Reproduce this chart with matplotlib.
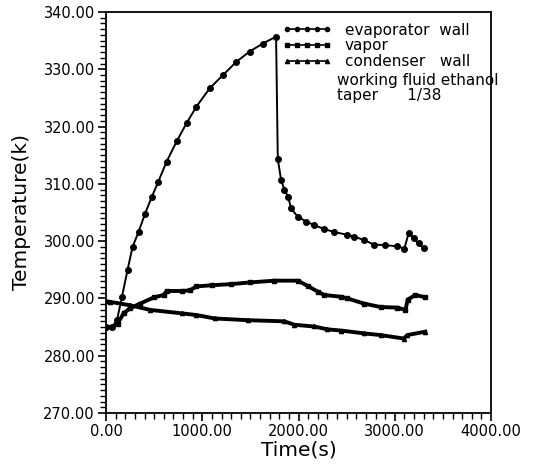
import matplotlib
matplotlib.use("Agg")
import matplotlib.pyplot as plt
from matplotlib.ticker import MultipleLocator, FormatStrFormatter

# ---- data ----
evap_t = [0, 62, 114, 165, 224, 276, 338, 406, 475, 544, 630, 734, 837, 940,
          1078, 1216, 1354, 1492, 1630, 1767, 1785, 1819, 1853, 1894, 1922,
          1991, 2080, 2163, 2270, 2370, 2508, 2577, 2680, 2783, 2900, 3025,
          3100, 3146, 3197, 3249, 3300]
evap_T = [285.0, 285.0, 286.2, 290.2, 295.0, 299.0, 301.6, 304.8, 307.7, 310.4,
          313.9, 317.4, 320.6, 323.5, 326.7, 329.0, 331.3, 333.1, 334.5, 335.7,
          314.3, 310.7, 309.0, 307.7, 305.7, 304.3, 303.4, 302.8, 302.1, 301.6,
          301.1, 300.8, 300.2, 299.4, 299.3, 299.1, 298.7, 301.5, 300.5, 299.6,
          298.8]

vap_t = [0, 62, 120, 183, 251, 355, 500, 600, 630, 785, 871, 940, 1100, 1302,
         1500, 1750, 1991, 2094, 2198, 2267, 2439, 2508, 2680, 2853, 3025, 3111,
         3135, 3214, 3318]
vap_T = [285.0, 285.0, 285.6, 287.4, 288.3, 289.1, 290.2, 290.6, 291.3, 291.3,
         291.4, 292.1, 292.3, 292.5, 292.8, 293.1, 293.1, 292.2, 291.2, 290.6,
         290.3, 290.0, 289.1, 288.5, 288.4, 288.0, 289.8, 290.6, 290.2]

cond_t = [0, 45, 251, 458, 785, 940, 1130, 1475, 1853, 1957, 2163, 2301, 2439,
          2680, 2853, 3094, 3130, 3318]
cond_T = [289.5, 289.4, 288.8, 288.0, 287.4, 287.1, 286.5, 286.2, 286.0, 285.4,
          285.1, 284.6, 284.4, 283.9, 283.6, 283.0, 283.6, 284.2]

labels = ["evaporator  wall", "vapor", "condenser   wall"]
notes = ["working fluid ethanol", "taper      1/38"]

fig = plt.figure(figsize=(5.39, 4.68), dpi=100)
ax = fig.add_axes([106/539, 1-413/468, (491-106)/539, (413-12)/468])

ax.plot(evap_t, evap_T, color="black", lw=1.4, marker="o", ms=4,
        mfc="black", mec="black", label=labels[0])
ax.plot(vap_t, vap_T, color="black", lw=2.8, marker="s", ms=3.0,
        mfc="black", mec="black", label=labels[1])
ax.plot(cond_t, cond_T, color="black", lw=2.8, marker="^", ms=3.0,
        mfc="black", mec="black", label=labels[2])

ax.set_xlim(0, 4000)
ax.set_ylim(270, 340)
ax.xaxis.set_major_locator(MultipleLocator(1000))
ax.xaxis.set_minor_locator(MultipleLocator(100))
ax.yaxis.set_major_locator(MultipleLocator(10))
ax.yaxis.set_minor_locator(MultipleLocator(1))
ax.xaxis.set_major_formatter(FormatStrFormatter("%.2f"))
ax.yaxis.set_major_formatter(FormatStrFormatter("%.2f"))
ax.tick_params(which="major", direction="out", length=6, width=1.2,
               labelsize=10.5, pad=2)
ax.tick_params(which="minor", direction="out", length=4, width=1.0)
for s in ax.spines.values():
    s.set_linewidth(1.3)

ax.set_xlabel("Time(s)", fontsize=14.5, labelpad=1)
ax.set_ylabel("Temperature(k)", fontsize=14.5, labelpad=9)

leg = ax.legend(loc="upper left", bbox_to_anchor=(0.43, 1.0), frameon=False,
                numpoints=5, handlelength=3.2, handletextpad=0.9,
                labelspacing=0.05, fontsize=11, borderpad=0.2)
for line in leg.get_lines():
    line.set_linewidth(1.2)
    line.set_markersize(3)

ax.text(0.60, 0.83, notes[0], transform=ax.transAxes, fontsize=11,
        va="center", ha="left")
ax.text(0.60, 0.793, notes[1], transform=ax.transAxes, fontsize=11,
        va="center", ha="left")

fig.savefig("out.png", dpi=100)
